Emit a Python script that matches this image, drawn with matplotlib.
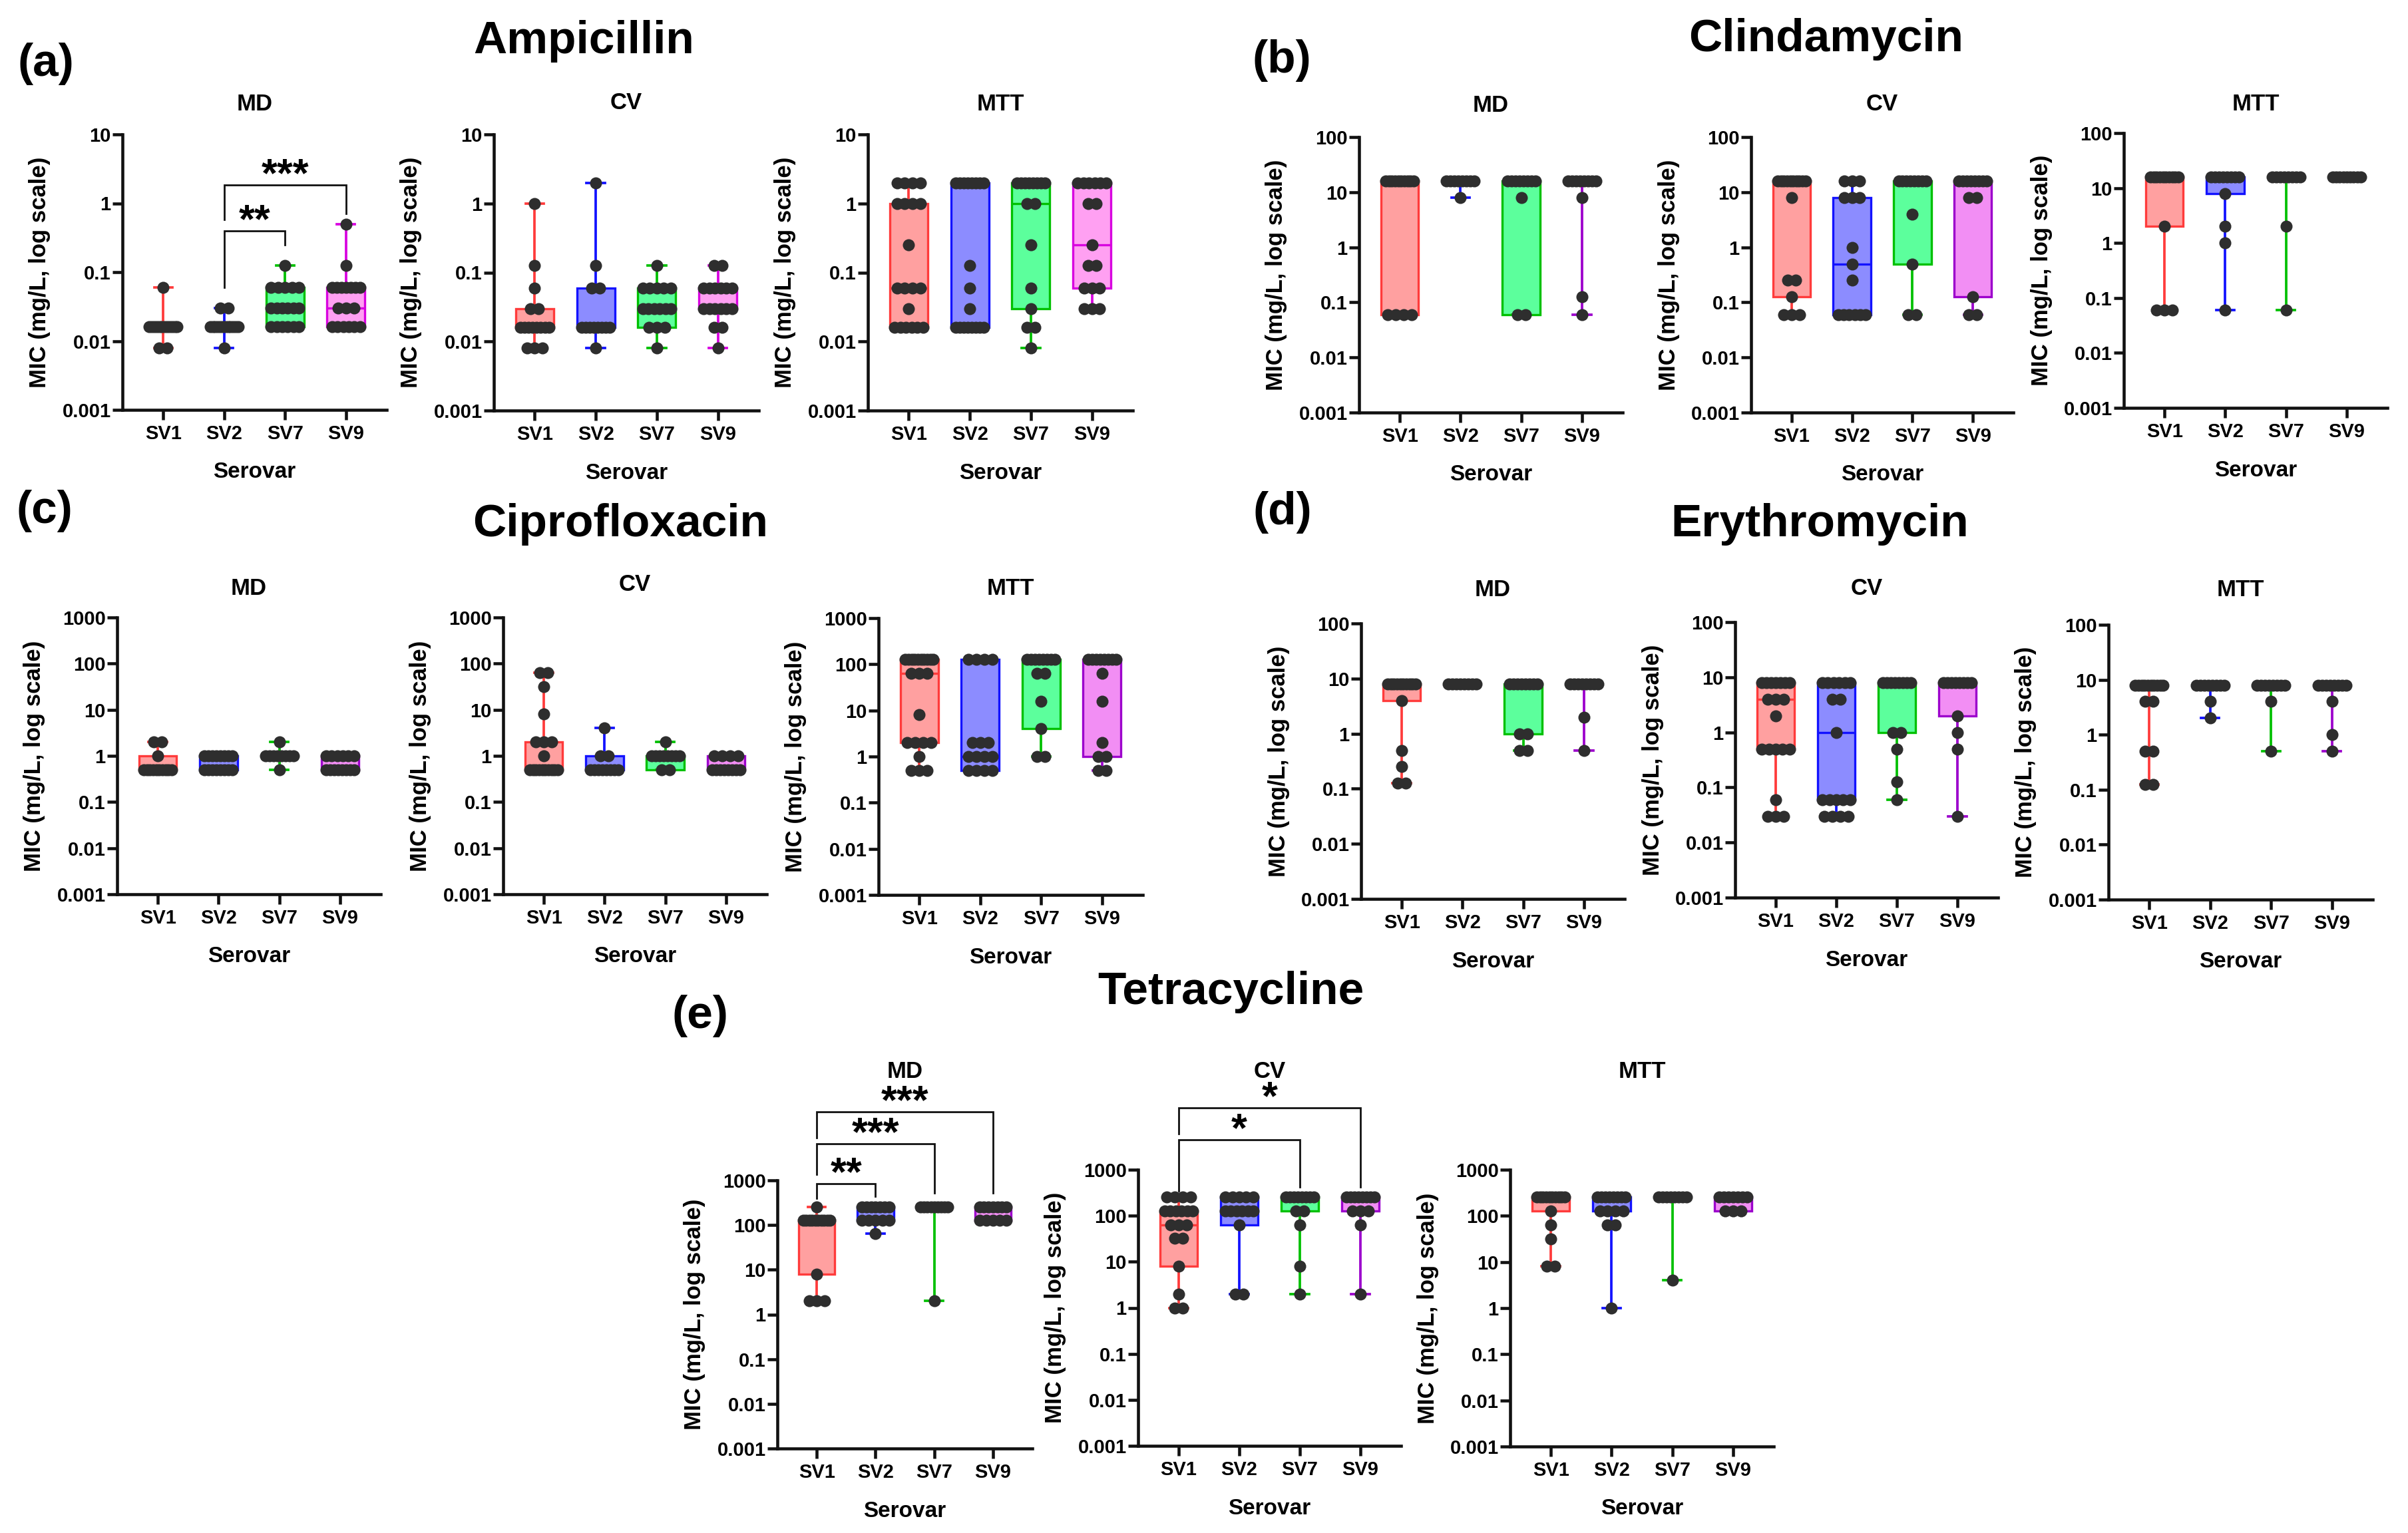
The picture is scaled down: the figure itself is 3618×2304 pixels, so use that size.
import numpy as np
import matplotlib
matplotlib.use('Agg')
import matplotlib.pyplot as plt
from matplotlib.ticker import NullLocator

plt.rcParams['font.family'] = ['Liberation Sans', 'DejaVu Sans']
plt.rcParams['font.weight'] = 'bold'

W, H = 3618, 2304

serovars = ['SV1', 'SV2', 'SV7', 'SV9']
methods = ['MD', 'CV', 'MTT']
antibiotics = ['Ampicillin', 'Clindamycin', 'Ciprofloxacin', 'Erythromycin', 'Tetracycline']
panel_letters = ['(a)', '(b)', '(c)', '(d)', '(e)']
y_top = [10, 100, 1000, 100, 1000]

# ---- box statistics per serovar: (min, Q1, median, Q3, max) ----
amp_md_box = [(0.008, 0.016, 0.016, 0.016, 0.06), (0.008, 0.016, 0.016, 0.016, 0.03),
              (0.016, 0.016, 0.03, 0.06, 0.125), (0.016, 0.016, 0.03, 0.06, 0.5)]
amp_cv_box = [(0.008, 0.016, 0.016, 0.03, 1), (0.008, 0.016, 0.016, 0.06, 2),
              (0.008, 0.016, 0.03, 0.06, 0.125), (0.008, 0.03, 0.03, 0.06, 0.125)]
amp_mtt_box = [(0.016, 0.016, 0.06, 1, 2), (0.016, 0.016, 0.016, 2, 2),
               (0.008, 0.03, 1, 2, 2), (0.03, 0.06, 0.25, 2, 2)]
cli_md_box = [(0.06, 0.06, 16, 16, 16), (8, 16, 16, 16, 16),
              (0.06, 0.06, 16, 16, 16), (0.06, 16, 16, 16, 16)]
cli_cv_box = [(0.06, 0.125, 16, 16, 16), (0.06, 0.06, 0.5, 8, 16),
              (0.06, 0.5, 16, 16, 16), (0.06, 0.125, 16, 16, 16)]
cli_mtt_box = [(0.06, 2, 16, 16, 16), (0.06, 8, 16, 16, 16),
               (0.06, 16, 16, 16, 16), (16, 16, 16, 16, 16)]
cip_md_box = [(0.5, 0.5, 0.5, 1, 2), (0.5, 0.5, 0.5, 1, 1),
              (0.5, 1, 1, 1, 2), (0.5, 0.5, 0.5, 1, 1)]
cip_cv_box = [(0.5, 0.5, 0.5, 2, 64), (0.5, 0.5, 0.5, 1, 4),
              (0.5, 0.5, 1, 1, 2), (0.5, 0.5, 0.5, 1, 1)]
cip_mtt_box = [(0.5, 2, 64, 128, 128), (0.5, 0.5, 1, 128, 128),
               (1, 4, 128, 128, 128), (0.5, 1, 128, 128, 128)]
ery_md_box = [(0.125, 4, 8, 8, 8), (8, 8, 8, 8, 8),
              (0.5, 1, 8, 8, 8), (0.5, 8, 8, 8, 8)]
ery_cv_box = [(0.03, 0.5, 4, 8, 8), (0.03, 0.06, 1, 8, 8),
              (0.06, 1, 8, 8, 8), (0.03, 2, 8, 8, 8)]
ery_mtt_box = [(0.125, 8, 8, 8, 8), (2, 8, 8, 8, 8),
               (0.5, 8, 8, 8, 8), (0.5, 8, 8, 8, 8)]
tet_md_box = [(2, 8, 128, 128, 256), (64, 128, 256, 256, 256),
              (2, 256, 256, 256, 256), (128, 128, 256, 256, 256)]
tet_cv_box = [(1, 8, 64, 128, 256), (2, 64, 128, 256, 256),
              (2, 128, 256, 256, 256), (2, 128, 256, 256, 256)]
tet_mtt_box = [(8, 128, 256, 256, 256), (1, 128, 256, 256, 256),
               (4, 256, 256, 256, 256), (128, 128, 256, 256, 256)]

# ---- individual isolates: (MIC value, number of isolates) per serovar ----
amp_md_dots = [[(0.06, 1), (0.016, 12), (0.008, 2)],
               [(0.03, 2), (0.016, 12), (0.008, 1)],
               [(0.125, 1), (0.06, 5), (0.03, 6), (0.016, 6)],
               [(0.5, 1), (0.125, 1), (0.06, 7), (0.03, 3), (0.016, 6)]]
amp_cv_dots = [[(1, 1), (0.125, 1), (0.06, 1), (0.03, 2), (0.016, 8), (0.008, 3)],
               [(2, 1), (0.125, 1), (0.06, 2), (0.016, 8), (0.008, 1)],
               [(0.125, 1), (0.06, 5), (0.03, 6), (0.016, 3), (0.008, 1)],
               [(0.125, 2), (0.06, 6), (0.03, 6), (0.016, 2), (0.008, 1)]]
amp_mtt_dots = [[(2, 4), (1, 4), (0.25, 1), (0.06, 4), (0.03, 1), (0.016, 6)],
                [(2, 8), (0.125, 1), (0.06, 1), (0.03, 1), (0.016, 8)],
                [(2, 8), (1, 2), (0.25, 1), (0.06, 1), (0.03, 1), (0.016, 2), (0.008, 1)],
                [(2, 6), (1, 2), (0.25, 1), (0.125, 2), (0.06, 3), (0.03, 3)]]
cli_md_dots = [[(16, 10), (0.06, 4)],
               [(16, 8), (8, 1)],
               [(16, 8), (8, 1), (0.06, 2)],
               [(16, 8), (8, 1), (0.125, 1), (0.06, 1)]]
cli_cv_dots = [[(16, 10), (8, 1), (0.25, 2), (0.125, 1), (0.06, 3)],
               [(16, 3), (8, 3), (1, 1), (0.5, 1), (0.25, 1), (0.06, 6)],
               [(16, 8), (4, 1), (0.5, 1), (0.06, 2)],
               [(16, 8), (8, 2), (0.125, 1), (0.06, 2)]]
cli_mtt_dots = [[(16, 10), (2, 1), (0.06, 3)],
                [(16, 8), (8, 1), (2, 1), (1, 1), (0.06, 1)],
                [(16, 8), (2, 1), (0.06, 1)],
                [(16, 9)]]
cip_md_dots = [[(2, 2), (1, 1), (0.5, 10)],
               [(1, 8), (0.5, 8)],
               [(2, 1), (1, 8), (0.5, 1)],
               [(1, 6), (0.5, 8)]]
cip_cv_dots = [[(64, 2), (32, 1), (8, 1), (2, 3), (1, 1), (0.5, 10)],
               [(4, 1), (1, 2), (0.5, 8)],
               [(2, 1), (1, 8), (0.5, 2)],
               [(1, 4), (0.5, 8)]]
cip_mtt_dots = [[(128, 10), (64, 3), (8, 1), (2, 4), (1, 1), (0.5, 3)],
                [(128, 4), (2, 3), (1, 4), (0.5, 4)],
                [(128, 8), (64, 2), (16, 1), (4, 1), (1, 2)],
                [(128, 8), (64, 1), (16, 1), (2, 1), (1, 2), (0.5, 2)]]
ery_md_dots = [[(8, 10), (4, 1), (0.5, 1), (0.25, 1), (0.125, 2)],
               [(8, 8)],
               [(8, 8), (1, 2), (0.5, 2)],
               [(8, 8), (2, 1), (0.5, 1)]]
ery_cv_dots = [[(8, 7), (4, 3), (2, 1), (0.5, 5), (0.06, 1), (0.03, 3)],
               [(8, 6), (4, 2), (1, 1), (0.06, 5), (0.03, 4)],
               [(8, 8), (1, 2), (0.5, 1), (0.125, 1), (0.06, 1)],
               [(8, 8), (2, 1), (1, 1), (0.5, 1), (0.03, 1)]]
ery_mtt_dots = [[(8, 10), (4, 2), (0.5, 2), (0.125, 2)],
                [(8, 8), (4, 1), (2, 1)],
                [(8, 8), (4, 1), (0.5, 1)],
                [(8, 8), (4, 1), (1, 1), (0.5, 1)]]
tet_md_dots = [[(256, 1), (128, 10), (8, 1), (2, 3)],
               [(256, 7), (128, 5), (64, 1)],
               [(256, 9), (2, 1)],
               [(256, 7), (128, 5)]]
tet_cv_dots = [[(256, 4), (128, 6), (64, 3), (32, 2), (8, 1), (2, 1), (1, 2)],
               [(256, 5), (128, 6), (64, 1), (2, 2)],
               [(256, 8), (128, 2), (64, 1), (8, 1), (2, 1)],
               [(256, 8), (128, 3), (64, 1), (2, 1)]]
tet_mtt_dots = [[(256, 10), (128, 1), (64, 1), (32, 1), (8, 2)],
                [(256, 8), (128, 4), (64, 2), (1, 1)],
                [(256, 8), (4, 1)],
                [(256, 7), (128, 3)]]

# ---- significance brackets: (stars, group i, group j, bracket level, left leg end, right leg end) ----
amp_md_sig = [('**', 1, 2, 0.40, 0.06, 0.25),
              ('***', 1, 3, 1.85, 0.58, 0.71)]
tet_md_sig = [('**', 0, 1, 843, 398, 436),
              ('***', 0, 2, 6650, 1360, 520),
              ('***', 0, 3, 34000, 8900, 520)]
tet_cv_sig = [('*', 0, 2, 4470, 347, 417),
              ('*', 0, 3, 21900, 6030, 417)]

boxes = [[amp_md_box, amp_cv_box, amp_mtt_box],
         [cli_md_box, cli_cv_box, cli_mtt_box],
         [cip_md_box, cip_cv_box, cip_mtt_box],
         [ery_md_box, ery_cv_box, ery_mtt_box],
         [tet_md_box, tet_cv_box, tet_mtt_box]]
dots = [[amp_md_dots, amp_cv_dots, amp_mtt_dots],
        [cli_md_dots, cli_cv_dots, cli_mtt_dots],
        [cip_md_dots, cip_cv_dots, cip_mtt_dots],
        [ery_md_dots, ery_cv_dots, ery_mtt_dots],
        [tet_md_dots, tet_cv_dots, tet_mtt_dots]]
sigs = {(0, 0): amp_md_sig, (4, 0): tet_md_sig, (4, 1): tet_cv_sig}

# ---- layout (pixels): left, right, top, bottom, title y ----
layout = [
    [(184, 581, 202, 616, 157), (742, 1140, 202, 617, 154), (1304, 1702, 202, 617, 157)],
    [(2042, 2438, 206, 620, 158), (2631, 3025, 206, 620, 156), (3191, 3587, 200, 613, 157)],
    [(176, 572, 928, 1344, 885), (756, 1152, 928, 1344, 878), (1320, 1717, 929, 1345, 885)],
    [(2045, 2441, 937, 1351, 886), (2607, 3002, 935, 1349, 884), (3168, 3565, 939, 1352, 886)],
    [(1168, 1551, 1774, 2177, 1611), (1710, 2105, 1758, 2173, 1610), (2269, 2665, 1758, 2174, 1610)],
]
title_pos = [(877, 62), (2744, 59), (932, 788), (2734, 788), (1849, 1491)]
letter_pos = [(69, 96), (1926, 91), (67, 768), (1927, 770), (1052, 1527)]

edges = ['#ff3b3b', '#1212ff', '#00c000', '#9c00cc']
faces = ['#ffa0a0', '#8c8cff', '#5cff9c', '#f28ef4']
amp_sv9_edge, amp_sv9_face = '#d800e0', '#ffa0f2'
dot_color = '#2e2e2e'

fig = plt.figure(figsize=(W / 100, H / 100), dpi=100)


def fx(x):
    return x / W


def fy(y):
    return 1 - y / H


for a in range(5):
    fig.text(fx(title_pos[a][0]), fy(title_pos[a][1]), antibiotics[a], fontsize=50,
             fontweight='bold', ha='center', va='center')
    fig.text(fx(letter_pos[a][0]), fy(letter_pos[a][1]), panel_letters[a], fontsize=50,
             fontweight='bold', ha='center', va='center')
    for m in range(3):
        L, R, T, B, ty = layout[a][m]
        ax = fig.add_axes([fx(L), fy(B), (R - L) / W, (B - T) / H])
        ax.set_yscale('log')
        ec = list(edges)
        fc = list(faces)
        if a == 0:
            ec[3], fc[3] = amp_sv9_edge, amp_sv9_face
        stats = [dict(whislo=b[0], q1=b[1], med=b[2], q3=b[3], whishi=b[4], fliers=[])
                 for b in boxes[a][m]]
        art = ax.bxp(stats, positions=range(4), widths=0.62, capwidths=0.3,
                     patch_artist=True, showfliers=False, manage_ticks=False)
        for k in range(4):
            art['boxes'][k].set(facecolor=fc[k], edgecolor=ec[k], linewidth=2.4, zorder=2)
            art['medians'][k].set(color=ec[k], linewidth=2.4, zorder=2.5)
            for ln in art['whiskers'][2 * k:2 * k + 2] + art['caps'][2 * k:2 * k + 2]:
                ln.set(color=ec[k], linewidth=2.7, zorder=2)
        for k, grp in enumerate(dots[a][m]):
            for v, n in grp:
                step = 0.13 if n < 2 else min(0.13, 0.46 / (n - 1))
                xs = k + (np.arange(n) - (n - 1) / 2) * step
                ax.plot(xs, np.full(n, v), 'o', ms=13, color=dot_color, mec='none',
                        zorder=4, clip_on=False)
        if (a, m) in sigs:
            for lab, i, j, yl, y1, y2 in sigs[(a, m)]:
                ax.plot([i, i, j, j], [y1, yl, yl, y2], color='#111111', lw=2.0,
                        clip_on=False, zorder=5, solid_joinstyle='miter')
                ax.annotate(lab, xy=((i + j) / 2, yl), xytext=(0, -1.5),
                            textcoords='offset points', ha='center', va='baseline',
                            fontsize=44, fontweight='bold', annotation_clip=False)
        ymax = y_top[a]
        ticks = [10.0 ** k for k in range(-3, int(round(np.log10(ymax))) + 1)]
        ax.set_ylim(0.001, ymax)
        ax.set_xlim(-0.67, 3.67)
        ax.set_yticks(ticks, [f'{t:g}' for t in ticks])
        ax.yaxis.set_minor_locator(NullLocator())
        ax.set_xticks(range(4), serovars)
        for s in ['top', 'right']:
            ax.spines[s].set_visible(False)
        for s in ['left', 'bottom']:
            ax.spines[s].set_linewidth(3.3)
            ax.spines[s].set_color('#111111')
        ax.tick_params(axis='both', direction='out', length=11, width=3.3, color='#111111',
                       labelsize=21)
        ax.tick_params(axis='y', pad=1.5)
        ax.tick_params(axis='x', pad=4.5)
        ax.patch.set_alpha(0)
        fig.text(fx((L + R) / 2), fy(ty), methods[m], fontsize=25, fontweight='bold',
                 ha='center', va='center')
        fig.text(fx((L + R) / 2), fy(B + 94), 'Serovar', fontsize=24, fontweight='bold',
                 ha='center', va='center')
        fig.text(fx(L - 124), fy((T + B) / 2), 'MIC (mg/L, log scale)', fontsize=25,
                 fontweight='bold', ha='center', va='center', rotation=90)

fig.savefig('out.png', dpi=100)
